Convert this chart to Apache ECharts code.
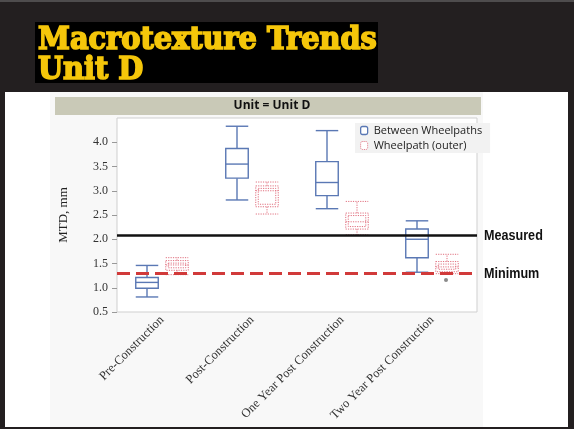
<!DOCTYPE html>
<html>
<head>
<meta charset="utf-8">
<script src="https://cdn.jsdelivr.net/npm/echarts@6/dist/echarts.min.js"></script>
<style>
html,body{margin:0;padding:0;background:#231f20;}
#chart{width:574px;height:429px;}
</style>
</head>
<body>
<div id="chart"></div>
<script>
// ---- data ----
const categories = ['Pre-Construction', 'Post-Construction', 'One Year Post Construction', 'Two Year Post Construction'];
// [low whisker, Q1, median, Q3, high whisker]
const betweenWheelpaths = [
  [0.81, 0.99, 1.11, 1.21, 1.46],
  [2.81, 3.26, 3.55, 3.87, 4.33],
  [2.63, 2.90, 3.17, 3.60, 4.24],
  [1.32, 1.62, 2.00, 2.21, 2.38]
];
const wheelpathOuter = [
  [1.27, 1.36, 1.47, 1.56, 1.62],
  [2.52, 2.67, 3.00, 3.10, 3.18],
  [2.09, 2.21, 2.36, 2.54, 2.78],
  [1.29, 1.33, 1.43, 1.54, 1.69]
];
const outerOutliers = [[3, 1.16]];
const yTicks = [0.5, 1.0, 1.5, 2.0, 2.5, 3.0, 3.5, 4.0];
const measuredValue = 2.08;
const minimumValue = 1.29;
const refLineNames = ['Measured', 'Minimum'];
const seriesNames = ['Between Wheelpaths', 'Wheelpath (outer)'];

// ---- styles ----
const BLUE = '#5a78b4';
const RED = '#e0707f';
const TITLE_FONT = 'bold 32px "DejaVu Serif Condensed", "DejaVu Serif", serif';

function toItems(arr) {
  return arr.map((v, i) => [i].concat(v));
}

function boxRenderer(offsetFrac, dotted) {
  return function (params, api) {
    const cat = api.value(0);
    const band = api.size([1, 0])[0];
    const off = band * offsetFrac;
    const w = band * 0.25;
    const low = api.coord([cat, api.value(1)]);
    const q1 = api.coord([cat, api.value(2)]);
    const med = api.coord([cat, api.value(3)]);
    const q3 = api.coord([cat, api.value(4)]);
    const high = api.coord([cat, api.value(5)]);
    const cx = low[0] + off;
    const x0 = cx - w / 2, x1 = cx + w / 2;
    const ls = dotted
      ? { stroke: RED, lineWidth: 1, lineDash: [1.2, 1.2], fill: null }
      : { stroke: BLUE, lineWidth: 1.4, fill: null };
    const children = [
      { type: 'line', shape: { x1: cx, y1: q1[1], x2: cx, y2: low[1] }, style: ls },
      { type: 'line', shape: { x1: cx, y1: q3[1], x2: cx, y2: high[1] }, style: ls },
      { type: 'line', shape: { x1: x0, y1: low[1], x2: x1, y2: low[1] }, style: ls },
      { type: 'line', shape: { x1: x0, y1: high[1], x2: x1, y2: high[1] }, style: ls },
      { type: 'rect', shape: { x: x0, y: q3[1], width: w, height: q1[1] - q3[1] }, style: Object.assign({}, ls, { fill: dotted ? 'rgba(255,255,255,0)' : '#fff' }) },
      { type: 'line', shape: { x1: x0, y1: med[1], x2: x1, y2: med[1] }, style: ls }
    ];
    if (dotted) {
      const h = q1[1] - q3[1];
      if (h > 5) {
        children.push({ type: 'rect', shape: { x: x0 + 2.5, y: q3[1] + 2.5, width: w - 5, height: h - 5 }, style: ls });
      }
    }
    return { type: 'group', children: children };
  };
}

const chart = echarts.init(document.getElementById('chart'), null, { renderer: 'canvas' });

const baseGraphic = [
  { id: 'topline', type: 'rect', z: -10, shape: { x: 0, y: 0.5, width: 574, height: 1 }, style: { fill: '#7a7a7a' } },
  { id: 'titlebox', type: 'rect', z: -10, shape: { x: 35, y: 22, width: 343, height: 61 }, style: { fill: '#000' } },
  { id: 't1', type: 'text', z: -9, style: { text: 'Macrotexture Trends', x: 38, y: 57, fill: '#f5c60a', stroke: '#f5c60a', lineWidth: 1.6, font: TITLE_FONT, verticalAlign: 'bottom' } },
  { id: 't2', type: 'text', z: -9, style: { text: 'Unit D', x: 38, y: 87, fill: '#f5c60a', stroke: '#f5c60a', lineWidth: 1.6, font: TITLE_FONT, verticalAlign: 'bottom' } },
  { id: 'panel', type: 'rect', z: -10, shape: { x: 5, y: 92, width: 563, height: 335 }, style: { fill: '#ffffff' } },
  { id: 'chartbg', type: 'rect', z: -9, shape: { x: 50, y: 92, width: 433, height: 335 }, style: { fill: '#f8f8f8' } },
  { id: 'band', type: 'rect', z: -8, shape: { x: 55, y: 97, width: 426, height: 18 }, style: { fill: '#c9c9b7' } },
  { id: 'bandtext', type: 'text', z: -7, style: { text: 'Unit = Unit D', x: 272, y: 106, fill: '#111', font: 'bold 12px "Open Sans", sans-serif', align: 'center', verticalAlign: 'middle' } }
];

const option = {
  backgroundColor: '#231f20',
  animation: false,
  graphic: baseGraphic,
  legend: {
    data: [
      { name: seriesNames[0], icon: 'roundRect', itemStyle: { color: '#fff', borderColor: BLUE, borderWidth: 1.3 } },
      { name: seriesNames[1], icon: 'roundRect', itemStyle: { color: '#fff', borderColor: RED, borderWidth: 1, borderType: 'dotted' } }
    ],
    orient: 'vertical',
    left: 355,
    top: 123,
    itemWidth: 7,
    itemHeight: 8,
    itemGap: 4,
    padding: [2, 8, 2, 5],
    backgroundColor: '#f2f2f2',
    textStyle: { fontFamily: '"Open Sans", sans-serif', fontSize: 11, color: '#222', padding: [0, 0, 0, 1] }
  },
  grid: {
    left: 117, right: 97, top: 118, bottom: 117,
    show: true, backgroundColor: '#ffffff', borderColor: '#cfcfcf', borderWidth: 1
  },
  xAxis: {
    type: 'category',
    data: categories,
    axisLine: { show: false },
    axisTick: { show: false },
    splitLine: { show: false },
    axisLabel: { interval: 0, rotate: 45, margin: 6, fontFamily: '"Liberation Serif", serif', fontSize: 12.5, color: '#333' }
  },
  yAxis: {
    type: 'value',
    min: 0.5, max: 4.5, interval: 0.5,
    name: 'MTD, mm',
    nameLocation: 'middle',
    nameGap: 47,
    nameTextStyle: { fontFamily: '"Liberation Serif", serif', fontSize: 13, color: '#222' },
    axisLine: { show: false },
    axisTick: { show: true, length: 5, lineStyle: { color: '#999' }, customValues: yTicks },
    splitLine: { show: false },
    axisLabel: { margin: 9, fontFamily: '"Liberation Serif", serif', fontSize: 12, color: '#333', customValues: yTicks, formatter: v => v.toFixed(1) }
  },
  series: [
    {
      name: seriesNames[0],
      type: 'custom',
      itemStyle: { color: BLUE },
      renderItem: boxRenderer(-1 / 6, false),
      encode: { x: 0, y: [1, 2, 3, 4, 5] },
      data: toItems(betweenWheelpaths),
      z: 3,
      markLine: {
        silent: true,
        symbol: 'none',
        animation: false,
        label: { show: false },
        data: [
          { name: refLineNames[0], yAxis: measuredValue, lineStyle: { color: '#111', width: 2.5, type: 'solid' } },
          { name: refLineNames[1], yAxis: minimumValue, lineStyle: { color: '#d13a3a', width: 3, type: [13, 6] } }
        ]
      }
    },
    {
      name: seriesNames[1],
      type: 'custom',
      itemStyle: { color: RED },
      renderItem: boxRenderer(1 / 6, true),
      encode: { x: 0, y: [1, 2, 3, 4, 5] },
      data: toItems(wheelpathOuter),
      z: 2
    },
    {
      name: seriesNames[1] + ' outliers',
      type: 'custom',
      renderItem: function (params, api) {
        const p = api.coord([api.value(0), api.value(1)]);
        const band = api.size([1, 0])[0];
        return { type: 'circle', shape: { cx: p[0] + band / 6 - 1, cy: p[1], r: 2 }, style: { fill: '#8a8a8a' } };
      },
      encode: { x: 0, y: 1 },
      data: outerOutliers,
      z: 4
    }
  ]
};
chart.setOption(option);

// reference-line labels, placed through the y axis scale (narrowed bold sans)
const labelX = 484;
const refValues = [measuredValue, minimumValue];
const labelGraphics = refValues.map((v, i) => {
  const y = chart.convertToPixel({ yAxisIndex: 0 }, v);
  return {
    id: 'reflabel' + i, type: 'text', z: 10, x: labelX, y: y, scaleX: 0.84,
    style: { text: refLineNames[i], x: 0, y: 0, fill: '#111', font: 'bold 15px "Liberation Sans", Arial, sans-serif', verticalAlign: 'middle' }
  };
});
chart.setOption({ graphic: labelGraphics });
</script>
</body>
</html>
